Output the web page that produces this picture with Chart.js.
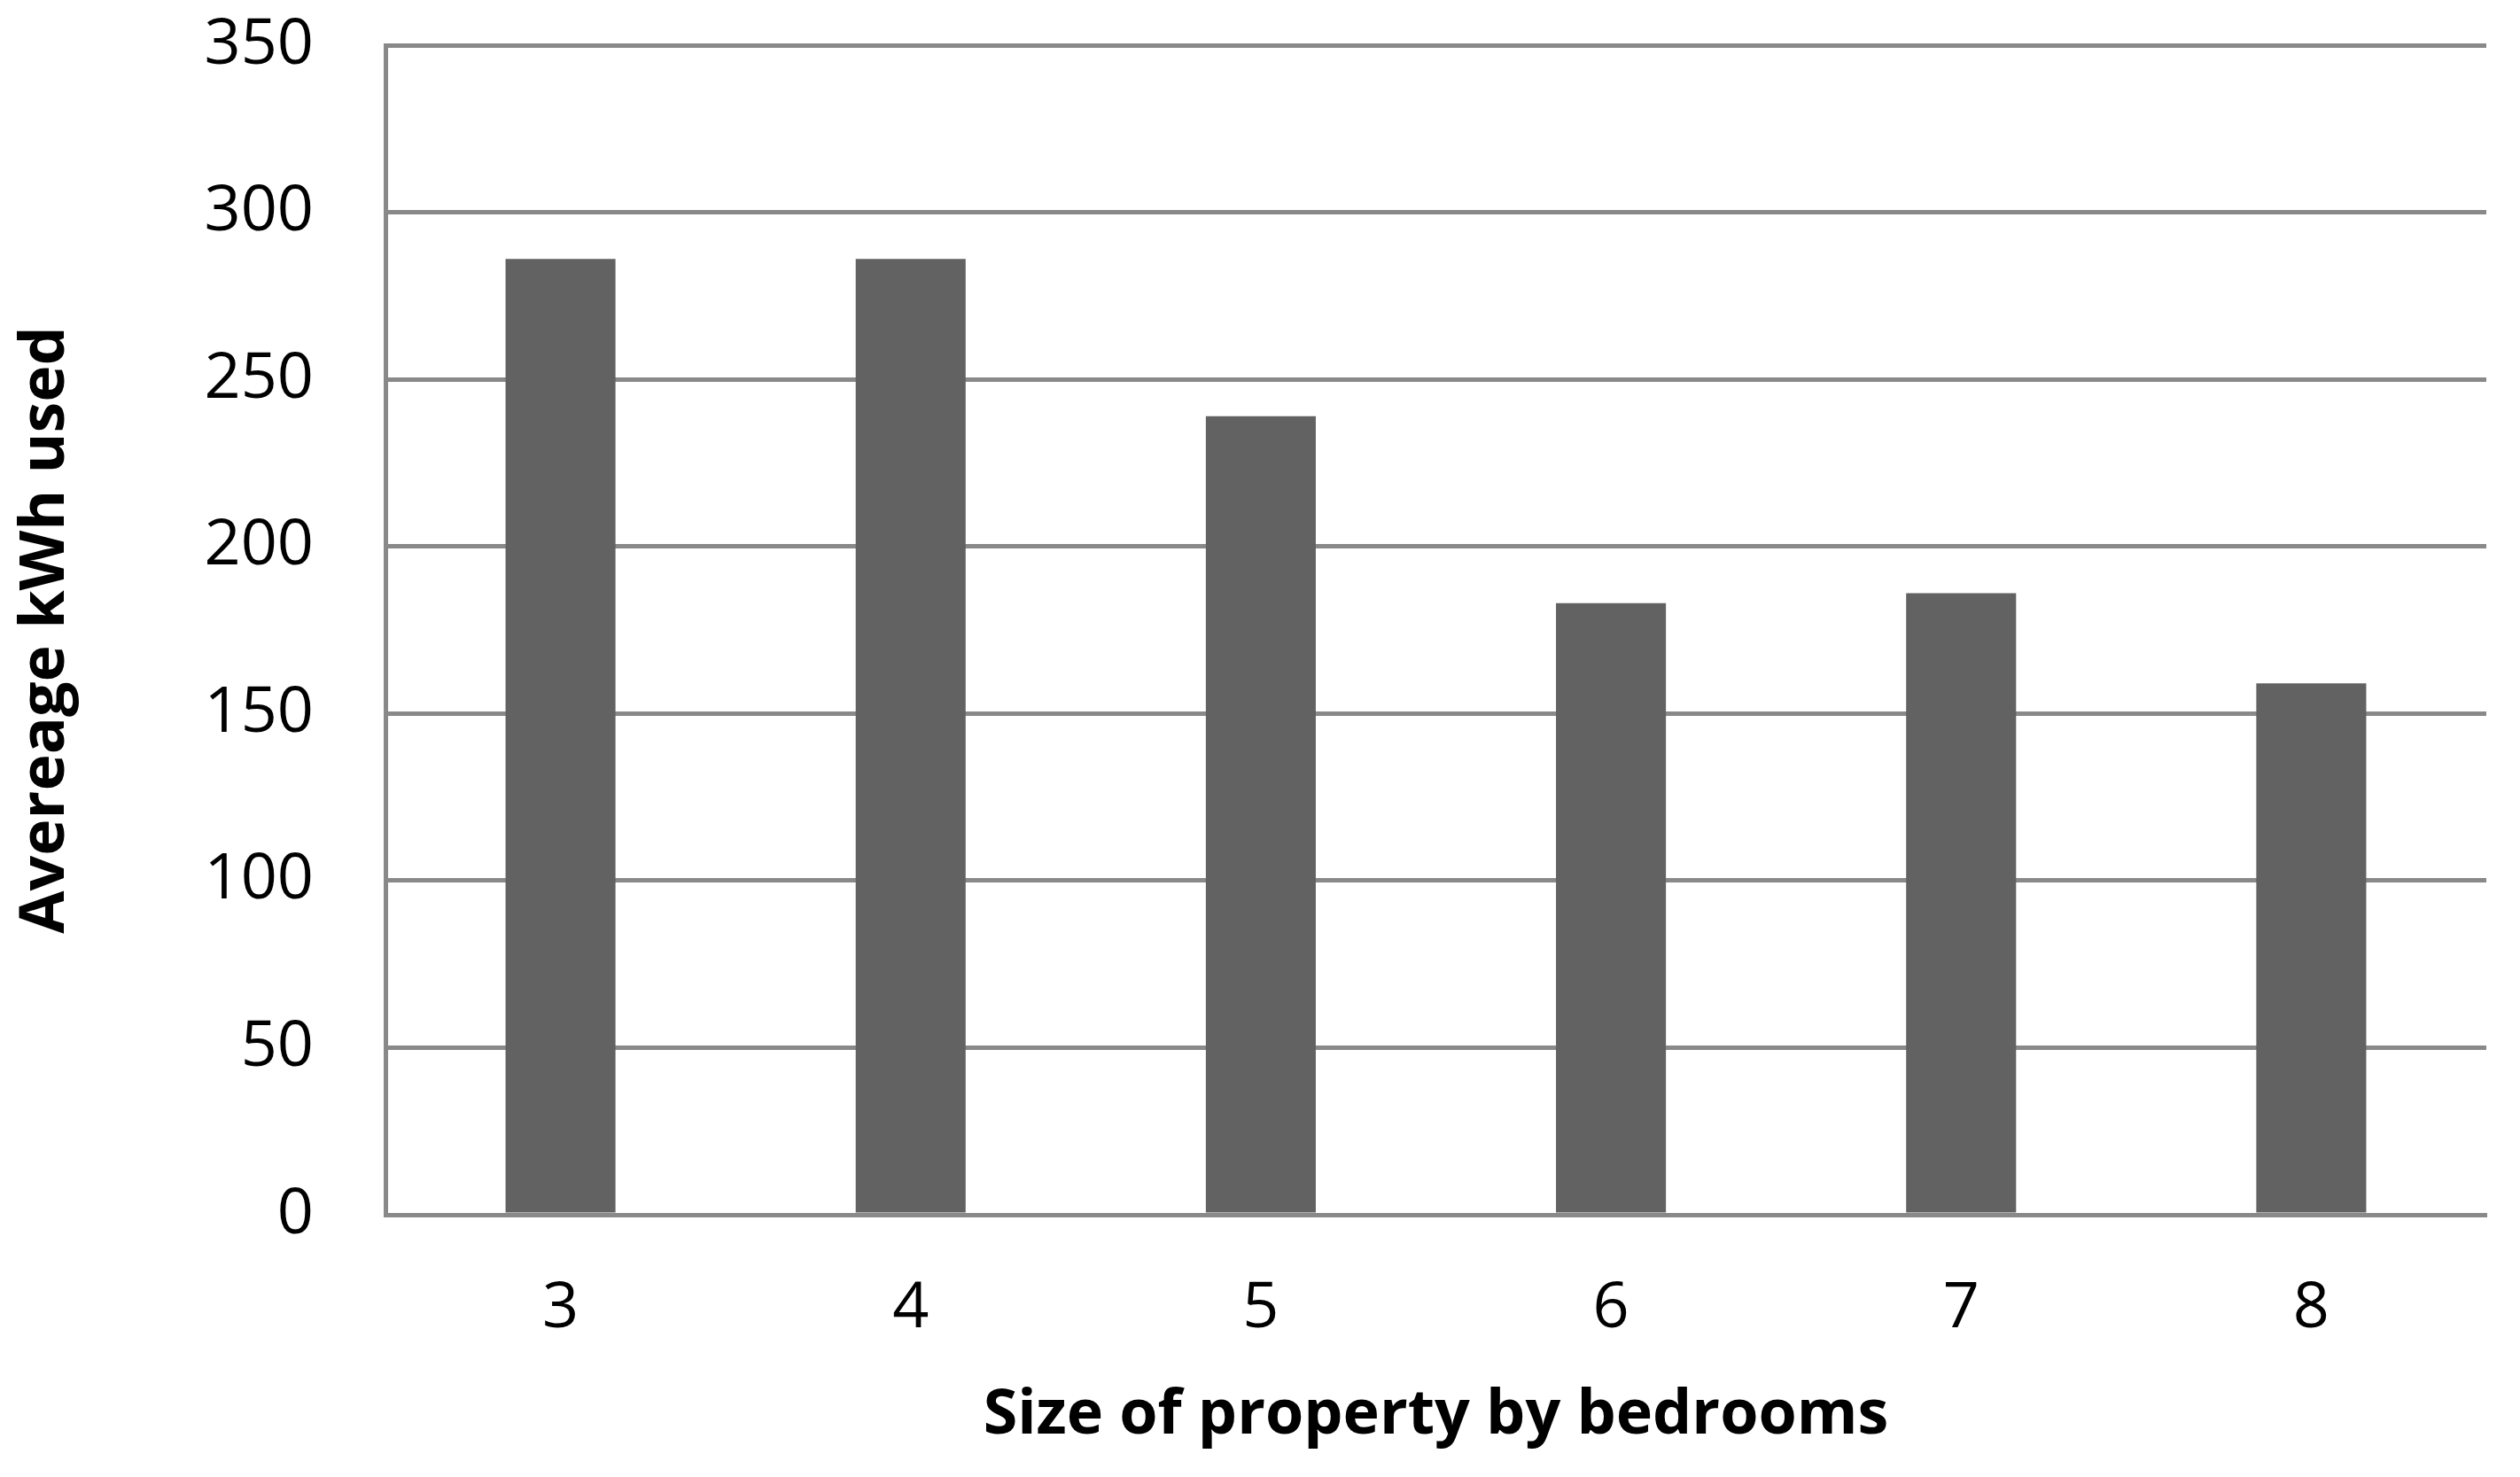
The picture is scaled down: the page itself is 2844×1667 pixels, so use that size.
<!DOCTYPE html>
<html>
<head>
<meta charset="utf-8">
<script src="https://cdn.jsdelivr.net/npm/chart.js@4.4.0/dist/chart.umd.min.js"></script>
<style>
  html, body { margin: 0; padding: 0; background: #fff; }
  #wrap { width: 2844px; height: 1667px; }
</style>
</head>
<body>
<div id="wrap"><canvas id="chart"></canvas></div>
<script>
// data
const bedrooms = ['3', '4', '5', '6', '7', '8'];
const avgKwh = [286, 286, 239, 183, 186, 159];
const yMin = 0;
const yMax = 350;
const yStep = 50;

const gridColor = '#898989';
const barColor = '#626262';
const fontFamily = '"Open Sans", "Noto Sans", sans-serif';

new Chart(document.getElementById('chart'), {
    type: 'bar',
    data: {
        labels: bedrooms,
        datasets: [{
            data: avgKwh,
            backgroundColor: barColor,
            borderWidth: 0,
            barPercentage: 0.314,
            categoryPercentage: 1
        }]
    },
    options: {
        responsive: true,
        maintainAspectRatio: false,
        animation: false,
        layout: { padding: { top: 51, right: 38, left: 0, bottom: 0 } },
        plugins: {
            legend: { display: false },
            tooltip: { enabled: false }
        },
        scales: {
            x: {
                grid: { display: false, drawTicks: false },
                border: { display: true, color: gridColor, width: 5 },
                ticks: {
                    color: '#000',
                    padding: 63,
                    font: { family: fontFamily, size: 72 }
                },
                title: {
                    display: true,
                    text: 'Size of property by bedrooms',
                    color: '#000',
                    padding: { top: 0, bottom: 27 },
                    font: { family: fontFamily, size: 70, weight: 'bold' }
                },
                afterFit: (scale) => {
                    scale.height = 296;
                    scale.paddingLeft = 0;
                    scale.paddingRight = 0;
                }
            },
            y: {
                min: yMin,
                max: yMax,
                grid: { color: gridColor, lineWidth: 5, drawTicks: false },
                border: { display: true, color: gridColor, width: 5 },
                ticks: {
                    stepSize: yStep,
                    color: '#000',
                    padding: 81,
                    font: { family: fontFamily, size: 72 }
                },
                title: {
                    display: true,
                    text: 'Avereage kWh used',
                    color: '#000',
                    padding: { top: 10, bottom: 0 },
                    font: { family: fontFamily, size: 70, weight: 'bold' }
                },
                afterFit: (scale) => {
                    scale.width = 435;
                    scale.paddingTop = 0;
                    scale.paddingBottom = 0;
                }
            }
        }
    }
});
</script>
</body>
</html>
